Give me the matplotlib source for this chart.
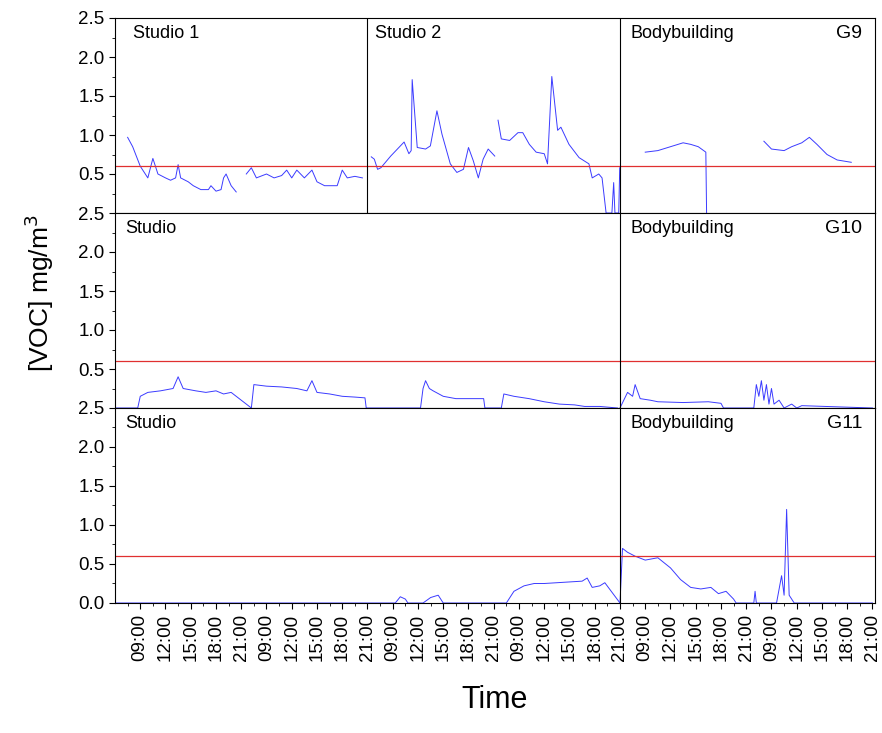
import numpy as np
import matplotlib
matplotlib.use('Agg')
import matplotlib.pyplot as plt

plt.rcParams['font.family'] = ['Liberation Sans', 'DejaVu Sans']

# x positions are tick slots (one slot per labelled tick)
tick_labels = ['09:00', '12:00', '15:00', '18:00', '21:00'] * 6
limit = 0.6

# row 1 (G9)
g9_s1a_t = [-0.5, -0.3, 0.0, 0.2, 0.3, 0.5, 0.7, 1.0, 1.2, 1.4, 1.5, 1.6, 1.9, 2.1, 2.4, 2.7, 2.8, 3.0, 3.2, 3.3, 3.4, 3.6, 3.8]
g9_s1a_v = [0.97, 0.85, 0.6, 0.5, 0.45, 0.7, 0.5, 0.45, 0.42, 0.45, 0.62, 0.45, 0.4, 0.35, 0.3, 0.3, 0.35, 0.28, 0.3, 0.45, 0.5, 0.35, 0.27]
g9_s1b_t = [4.2, 4.4, 4.6, 5.0, 5.3, 5.6, 5.8, 6.0, 6.2, 6.5, 6.8, 7.0, 7.3, 7.6, 7.8, 8.0, 8.2, 8.5, 8.8]
g9_s1b_v = [0.5, 0.58, 0.45, 0.5, 0.45, 0.48, 0.55, 0.45, 0.55, 0.45, 0.55, 0.4, 0.35, 0.35, 0.35, 0.55, 0.45, 0.47, 0.45]
g9_s2a_t = [9.15, 9.27, 9.4, 9.53, 9.92, 10.45, 10.64, 10.73, 10.77, 10.97, 11.3, 11.49, 11.75, 11.95, 12.28, 12.54, 12.8, 13.0, 13.19, 13.39, 13.58, 13.78, 14.04]
g9_s2a_v = [0.72, 0.69, 0.56, 0.58, 0.73, 0.91, 0.76, 0.8, 1.71, 0.84, 0.82, 0.86, 1.31, 1.01, 0.63, 0.52, 0.56, 0.84, 0.67, 0.45, 0.69, 0.82, 0.73]
g9_s2b_t = [14.17, 14.3, 14.63, 14.96, 15.15, 15.41, 15.68, 16.0, 16.13, 16.3, 16.53, 16.66, 16.98, 17.38, 17.77, 17.9, 18.16, 18.29, 18.45, 18.68, 18.75, 18.8, 18.88, 18.95, 18.99]
g9_s2b_v = [1.19, 0.95, 0.93, 1.03, 1.03, 0.88, 0.78, 0.76, 0.63, 1.75, 1.06, 1.10, 0.88, 0.71, 0.63, 0.45, 0.50, 0.45, 0.0, 0.0, 0.39, 0.0, 0.0, 0.0, 0.58]
g9_bb_a_t = [20.0, 20.5, 21.0, 21.5, 21.8, 22.1, 22.4, 22.43]
g9_bb_a_v = [0.78, 0.8, 0.85, 0.9, 0.88, 0.85, 0.78, 0.0]
g9_bb_b_t = [24.7, 25.0, 25.5, 25.8, 26.2, 26.5, 26.8, 27.2, 27.6, 28.16]
g9_bb_b_v = [0.92, 0.82, 0.8, 0.85, 0.9, 0.97, 0.88, 0.75, 0.68, 0.65]

# row 2 (G10)
g10_st_t = [-1.0, -0.1, 0.0, 0.3, 0.8, 1.3, 1.5, 1.7, 2.2, 2.6, 3.0, 3.3, 3.6, 3.8, 4.4, 4.5, 5.0, 5.6, 6.2, 6.6, 6.8, 7.0, 7.5, 8.0, 8.5, 8.9, 8.95,
            11.1, 11.2, 11.3, 11.45, 11.6, 12.0, 12.5, 13.0, 13.6, 13.65, 14.3, 14.4, 14.8, 15.4, 16.0, 16.6, 17.2, 17.6, 18.2, 18.9]
g10_st_v = [0.0, 0.0, 0.15, 0.2, 0.22, 0.25, 0.4, 0.25, 0.22, 0.2, 0.22, 0.18, 0.2, 0.15, 0.0, 0.3, 0.28, 0.27, 0.25, 0.22, 0.35, 0.2, 0.18, 0.15, 0.14, 0.13, 0.0,
            0.0, 0.25, 0.35, 0.25, 0.22, 0.15, 0.12, 0.12, 0.12, 0.0, 0.0, 0.18, 0.15, 0.12, 0.08, 0.05, 0.04, 0.02, 0.02, 0.0]
g10_bb_t = [19.0, 19.3, 19.5, 19.6, 19.8, 20.2, 20.5, 21.5, 22.5, 23.0, 23.1, 24.3, 24.4, 24.5, 24.6, 24.7, 24.8, 24.9, 25.0, 25.1, 25.3, 25.5, 25.8, 26.0, 26.2, 29.0]
g10_bb_v = [0.0, 0.2, 0.15, 0.3, 0.12, 0.1, 0.08, 0.07, 0.08, 0.06, 0.0, 0.0, 0.3, 0.15, 0.35, 0.1, 0.3, 0.05, 0.25, 0.05, 0.1, 0.0, 0.05, 0.0, 0.03, 0.0]

# row 3 (G11)
g11_st_t = [-1.0, 10.1, 10.3, 10.5, 10.6, 11.2, 11.5, 11.8, 12.0, 14.5, 14.8, 15.2, 15.6, 16.0, 16.5, 17.0, 17.5, 17.7, 17.9, 18.2, 18.4, 19.0]
g11_st_v = [0.0, 0.0, 0.08, 0.05, 0.0, 0.0, 0.07, 0.1, 0.0, 0.0, 0.15, 0.22, 0.25, 0.25, 0.26, 0.27, 0.28, 0.32, 0.2, 0.22, 0.26, 0.0]
g11_bb_t = [19.0, 19.1, 19.3, 19.6, 20.0, 20.5, 21.0, 21.4, 21.8, 22.2, 22.6, 22.9, 23.2, 23.5, 23.6, 24.3, 24.35, 24.4, 25.2, 25.4, 25.5, 25.6, 25.7, 25.9, 26.0, 29.0]
g11_bb_v = [0.0, 0.7, 0.65, 0.6, 0.55, 0.58, 0.45, 0.3, 0.2, 0.18, 0.2, 0.12, 0.15, 0.05, 0.0, 0.0, 0.15, 0.0, 0.0, 0.35, 0.1, 1.2, 0.1, 0.0, 0.0, 0.0]

rows = [
    dict(tag='G9', splits=[9, 19], names=[('Studio 1', -0.3), ('Studio 2', 9.3), ('Bodybuilding', 19.4)],
         series=[(g9_s1a_t, g9_s1a_v), (g9_s1b_t, g9_s1b_v), (g9_s2a_t, g9_s2a_v), (g9_s2b_t, g9_s2b_v),
                 (g9_bb_a_t, g9_bb_a_v), (g9_bb_b_t, g9_bb_b_v)]),
    dict(tag='G10', splits=[19], names=[('Studio', -0.6), ('Bodybuilding', 19.4)],
         series=[(g10_st_t, g10_st_v), (g10_bb_t, g10_bb_v)]),
    dict(tag='G11', splits=[19], names=[('Studio', -0.6), ('Bodybuilding', 19.4)],
         series=[(g11_st_t, g11_st_v), (g11_bb_t, g11_bb_v)]),
]

fig = plt.figure(figsize=(8.82, 7.33), dpi=100)
left, right, top, bottom = 115 / 882, 875 / 882, 1 - 18 / 733, 1 - 603 / 733
h = (top - bottom) / 3

for k, row in enumerate(rows):
    ax = fig.add_axes([left, top - (k + 1) * h, right - left, h])
    for t, v in row['series']:
        ax.plot(t, v, color='#3b3bff', lw=0.7)
    ax.axhline(limit, color='#e03030', lw=0.9)
    for s in row['splits']:
        ax.axvline(s, color='black', lw=0.8)
    for name, x in row['names']:
        ax.text(x, 2.3, name, fontsize=13, va='center')
    ax.text(28.6, 2.3, row['tag'], fontsize=14, va='center', ha='right')
    ax.set_xlim(-1, 29.1)
    ax.set_ylim(0, 2.5)
    if k < 2:
        ax.set_yticks([0.5, 1.0, 1.5, 2.0, 2.5])
    else:
        ax.set_yticks([0.0, 0.5, 1.0, 1.5, 2.0, 2.5])
    ax.set_yticks(np.arange(0.25, 2.5, 0.5), minor=True)
    ax.yaxis.set_major_formatter(matplotlib.ticker.FormatStrFormatter('%.1f'))
    ax.set_xticks(range(30))
    ax.set_xticks(np.arange(-0.5, 29.5, 1.0), minor=True)
    ax.tick_params(axis='both', which='both', labelsize=13.5)
    ax.tick_params(axis='y', which='major', length=4)
    ax.tick_params(axis='y', which='minor', length=2)
    ax.tick_params(axis='x', which='major', length=4)
    ax.tick_params(axis='x', which='minor', length=2)
    if k < 2:
        ax.tick_params(axis='x', which='both', length=0, labelbottom=False)
    else:
        ax.set_xticklabels(tick_labels, rotation=90)
    for sp in ax.spines.values():
        sp.set_linewidth(0.8)

fig.text(0.045, 0.6, '[VOC] mg/m$^3$', rotation=90, fontsize=19, va='center', ha='center')
fig.text((left + right) / 2, 0.045, 'Time', fontsize=22, ha='center', va='center')
fig.savefig('out.png', dpi=100)
